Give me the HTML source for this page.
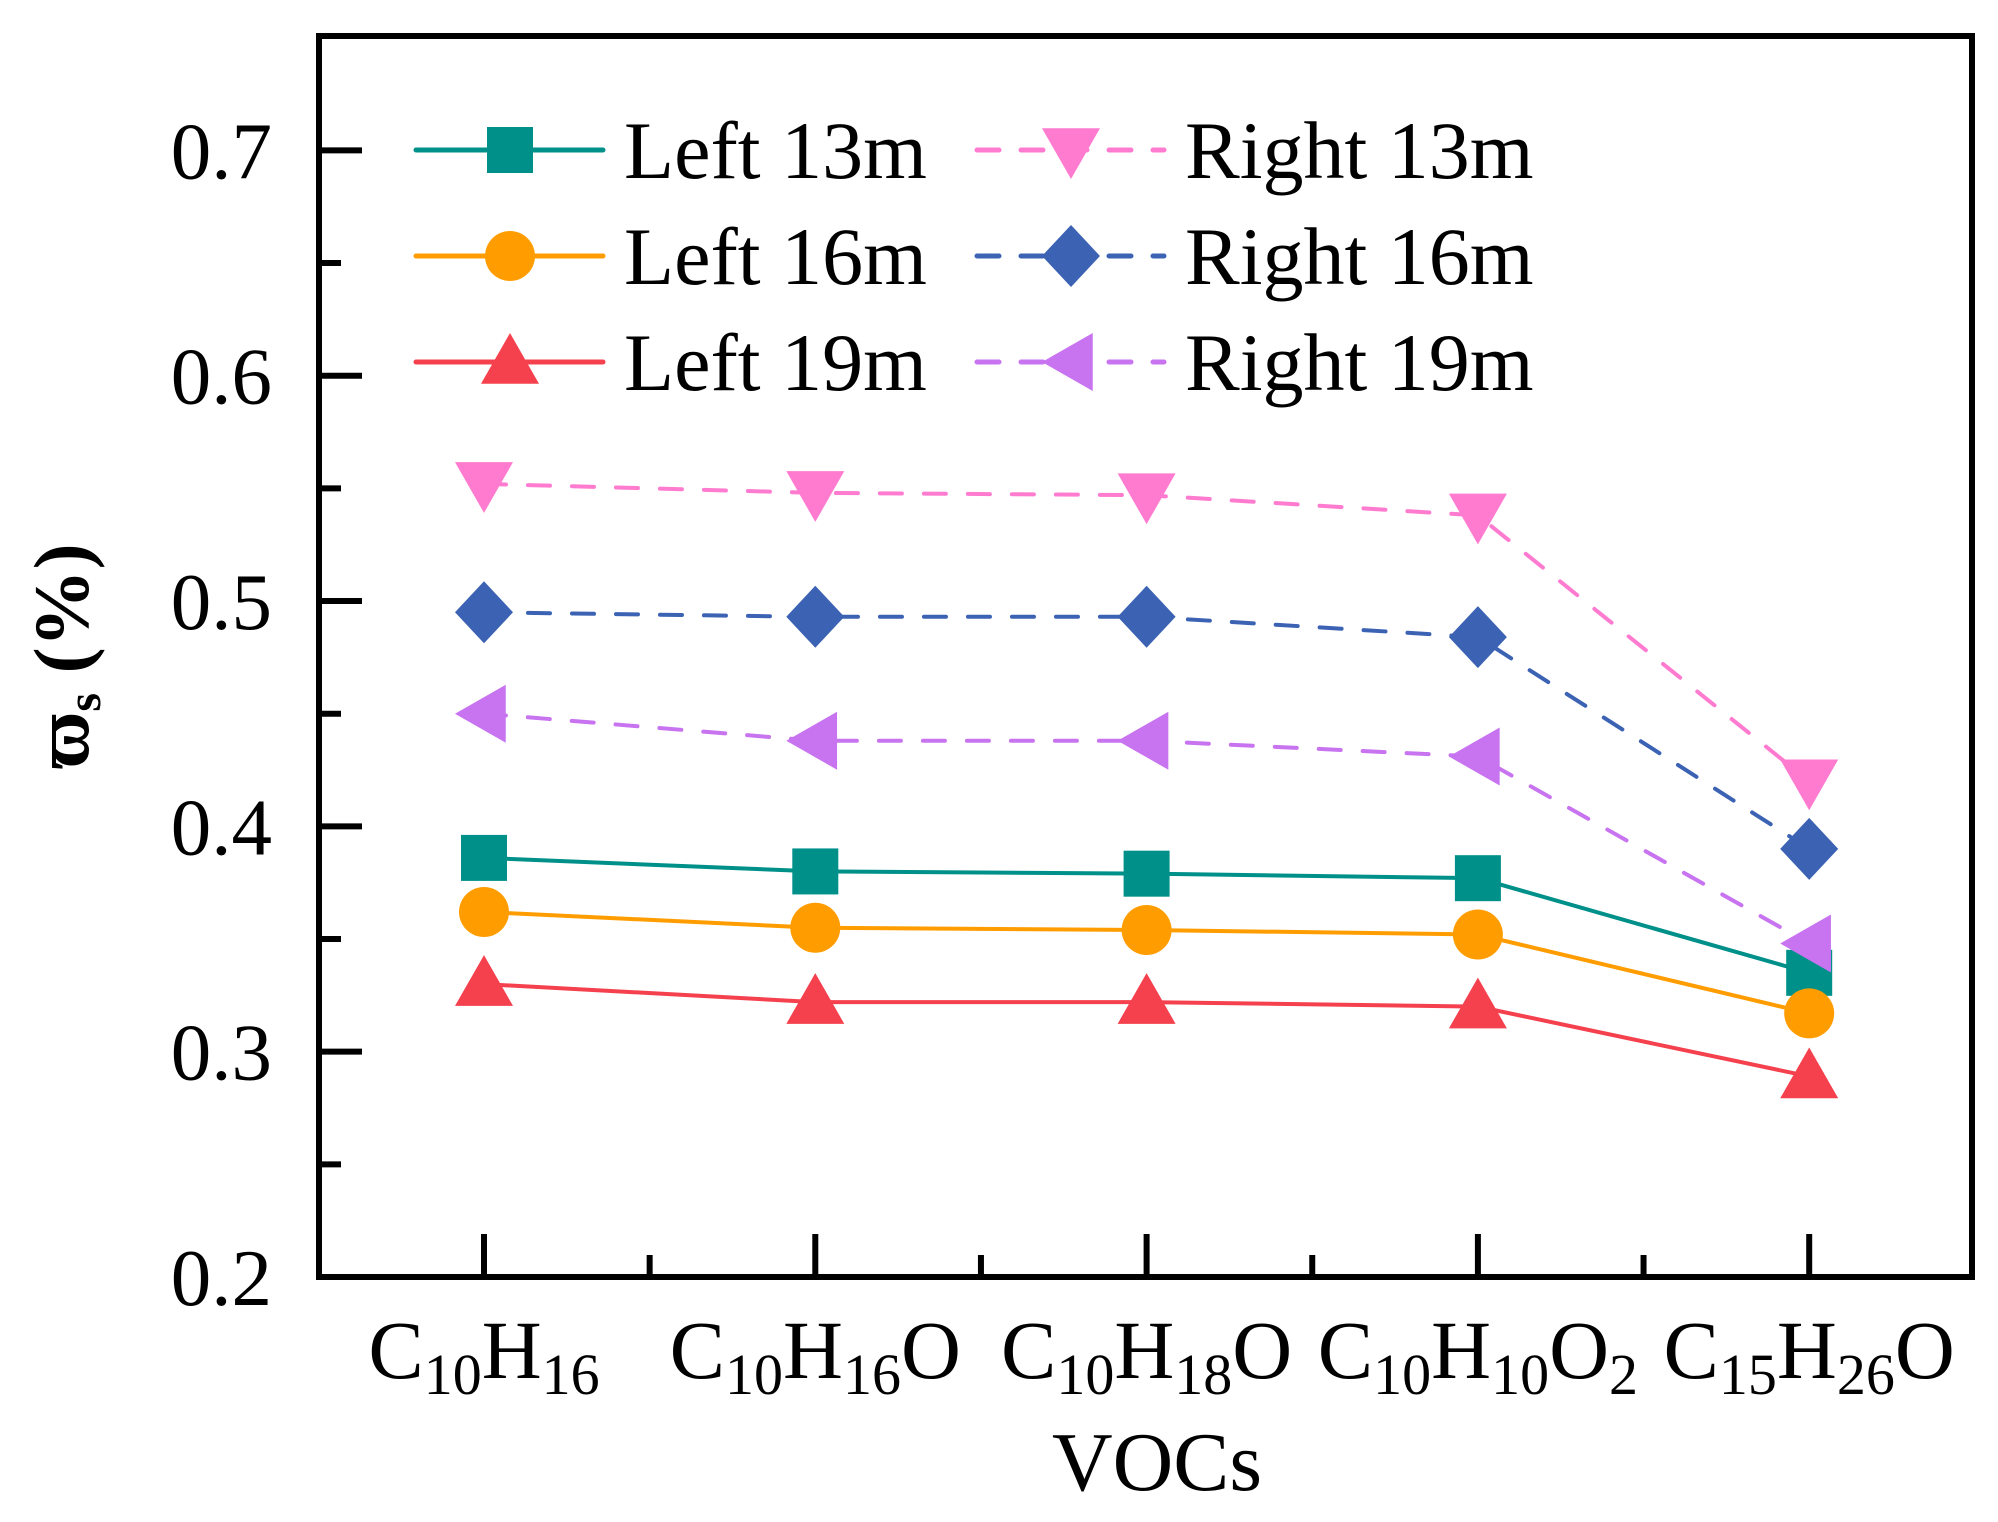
<!DOCTYPE html>
<html><head><meta charset="utf-8"><style>
body{margin:0;background:#fff}
svg{display:block;font-family:"Liberation Serif",serif}
</style></head><body>
<svg id="chart" width="1998" height="1522" viewBox="0 0 1998 1522">
<g id="marks"></g>
<rect x="319" y="36" width="1653" height="1241" fill="none" stroke="#000" stroke-width="6"/>
<g id="axes"></g>
<g id="legend"></g>
<text transform="translate(88,656) rotate(-90)" text-anchor="middle" font-size="78" font-weight="bold">ϖ<tspan font-size="48" dy="12">s</tspan><tspan dy="-12"> (%)</tspan></text>
<text x="1157" y="1490" text-anchor="middle" font-size="84">VOCs</text>
</svg>
<script>
const categories=[["C","10","H","16"],["C","10","H","16","O"],["C","10","H","18","O"],["C","10","H","10","O","2"],["C","15","H","26","O"]];
const yTicks=[0.2,0.3,0.4,0.5,0.6,0.7];
const seriesNames=["Left 13m","Left 16m","Left 19m","Right 13m","Right 16m","Right 19m"];
const left13=[0.386,0.380,0.379,0.377,0.335];
const left16=[0.362,0.355,0.354,0.352,0.317];
const left19=[0.330,0.322,0.322,0.320,0.289];
const right13=[0.552,0.548,0.547,0.538,0.420];
const right16=[0.495,0.493,0.493,0.484,0.390];
const right19=[0.450,0.438,0.438,0.431,0.348];

const NS="http://www.w3.org/2000/svg";
function y(v){return 1277-(v-0.2)*(1277-150.4)/0.5;}
function x(i){return 484+i*331.3;}
function mk(tag,attrs,parent){const e=document.createElementNS(NS,tag);for(const k in attrs)e.setAttribute(k,attrs[k]);parent.appendChild(e);return e;}
const axes=document.getElementById('axes'),marks=document.getElementById('marks'),legend=document.getElementById('legend');

yTicks.forEach(v=>{
 const t=mk('line',{x1:319,x2:362,y1:y(v),y2:y(v),stroke:'#000','stroke-width':6},axes);
 
 
 const l=mk('text',{x:272,y:y(v)+28,'text-anchor':'end','font-size':81},axes);
 l.textContent=v.toFixed(1);
 
 
 if(v<0.7){const m=mk('line',{x1:319,x2:341,y1:y(v+0.05),y2:y(v+0.05),stroke:'#000','stroke-width':6},axes);
 
 }
});
categories.forEach((c,i)=>{
 const t=mk('line',{x1:x(i),x2:x(i),y1:1277,y2:1234,stroke:'#000','stroke-width':6},axes);
 
 
 if(i<categories.length-1){const m=mk('line',{x1:x(i+0.5),x2:x(i+0.5),y1:1277,y2:1255,stroke:'#000','stroke-width':6},axes);
 
 }
 const l=mk('text',{x:x(i),y:1378,'text-anchor':'middle','font-size':83},axes);
 
 
 c.forEach(s=>{const sub=/^\d+$/.test(s);const ts=mk('tspan',{},l);if(sub){ts.setAttribute('font-size',58);ts.setAttribute('dy',16);}ts.textContent=s;
  if(sub){const r=mk('tspan',{dy:-16,'font-size':1},l);r.textContent='\u200b';}});
});

function marker(type,cx,cy,color,parent){
 const s=29;let e;
 if(type==='square')e=mk('rect',{x:cx-23,y:cy-23,width:46,height:46,fill:color},parent);
 else if(type==='circle')e=mk('circle',{cx:cx,cy:cy,r:25,fill:color},parent);
 else if(type==='up')e=mk('polygon',{points:`${cx},${cy-s} ${cx+s},${cy+s*0.75} ${cx-s},${cy+s*0.75}`,fill:color},parent);
 else if(type==='down')e=mk('polygon',{points:`${cx},${cy+s} ${cx+s},${cy-s*0.75} ${cx-s},${cy-s*0.75}`,fill:color},parent);
 else if(type==='diamond')e=mk('polygon',{points:`${cx},${cy-31} ${cx+29},${cy} ${cx},${cy+31} ${cx-29},${cy}`,fill:color},parent);
 else e=mk('polygon',{points:`${cx-s},${cy} ${cx+s*0.75},${cy-s} ${cx+s*0.75},${cy+s}`,fill:color},parent);
 return e;
}
const series=[
 {name:seriesNames[0],vals:left13,color:'#00908a',m:'square',dash:null},
 {name:seriesNames[1],vals:left16,color:'#ff9d00',m:'circle',dash:null},
 {name:seriesNames[2],vals:left19,color:'#f5404e',m:'up',dash:null},
 {name:seriesNames[3],vals:right13,color:'#ff7bd0',m:'down',dash:'22 22'},
 {name:seriesNames[4],vals:right16,color:'#3b62b3',m:'diamond',dash:'22 22'},
 {name:seriesNames[5],vals:right19,color:'#c873f0',m:'left',dash:'22 22'}];
series.forEach((s,k)=>{
 const g=mk('g',{},marks);
 
 
 const pl=mk('polyline',{points:s.vals.map((v,i)=>x(i)+','+y(v)).join(' '),fill:'none',stroke:s.color,'stroke-width':4,'stroke-linecap':'round'},g);
 if(s.dash)pl.setAttribute('stroke-dasharray',s.dash);
 
 
 s.vals.forEach((v,i)=>{const p=marker(s.m,x(i),y(v),s.color,g);
  
  });
 const col=k<3?0:1,row=k%3;
 const lx=col?975:414,ly=150+row*106;
 const lg=mk('g',{},legend);
 
 
 const ll=mk('line',{x1:lx+2,x2:lx+189,y1:ly,y2:ly,stroke:s.color,'stroke-width':5,'stroke-linecap':'round'},lg);
 if(s.dash)ll.setAttribute('stroke-dasharray',s.dash);
 marker(s.m,lx+96,ly,s.color,lg);
 const t=mk('text',{x:lx+210,y:ly+28,'font-size':82},lg);
 t.textContent=s.name;
});
</script>
</body></html>
